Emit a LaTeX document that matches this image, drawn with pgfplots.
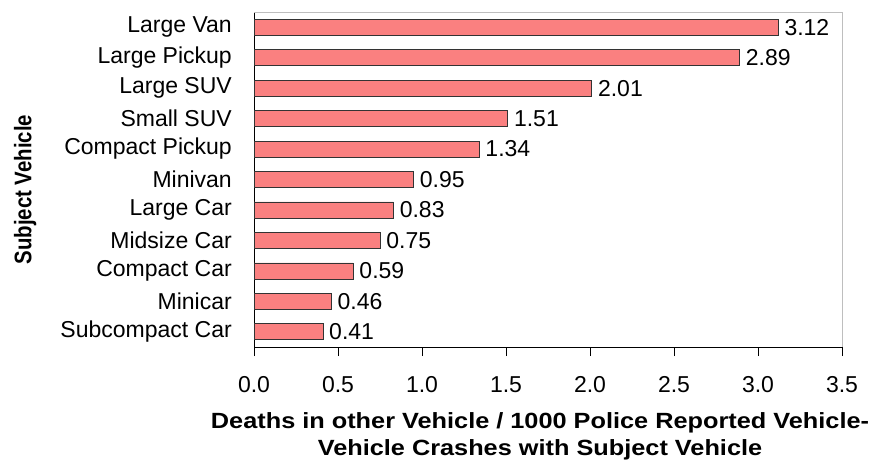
\documentclass[border=0pt]{standalone}
\usepackage{pgfplots}
\pgfplotsset{compat=1.18}
\usepackage{fontspec}
\setmainfont{Liberation Sans}
\definecolor{barfill}{RGB}{250,128,128}
\definecolor{framegray}{RGB}{190,190,190}
\newcommand\labelfont{\fontsize{23}{26}\selectfont}
\begin{document}
\begin{tikzpicture}[x=1pt,y=1pt]
\useasboundingbox (0,0) rectangle (875,463);
\begin{axis}[
  at={(254pt,116pt)}, anchor=south west,
  scale only axis, width=588pt, height=335pt,
  xmin=0, xmax=3.5, ymin=-0.5, ymax=10.5,
  axis x line*=bottom, axis y line*=left,
  axis line style={black, line width=0.8pt},
  xtick={0,0.5,...,3.5},
  xticklabel style={font=\labelfont, inner sep=0pt, anchor=north, yshift=-20pt},
  /pgf/number format/assume math mode=true,
  xticklabel={\pgfmathprintnumber[fixed,fixed zerofill,precision=1]{\tick}},
  ytick={0,...,10},
  yticklabels={Subcompact Car,Minicar,Compact Car,Midsize Car,Large Car,Minivan,Compact Pickup,Small SUV,Large SUV,Large Pickup,Large Van},
  yticklabel style={font=\labelfont, inner sep=0pt, anchor=east, xshift=-13pt},
  minor ytick={-0.5,0.5,...,10.5},
  tick align=outside,
  major tick length=9pt,
  ytick style={draw=none},
  minor tick style={black, line width=0.8pt},
  minor tick length=6pt,
  xtick style={black, line width=0.8pt},
  xlabel={\scalebox{1.15}[1]{\begin{tabular}{@{}c@{}}Deaths in other Vehicle / 1000 Police Reported Vehicle-\\Vehicle Crashes with Subject Vehicle\end{tabular}}},
  xlabel style={font=\bfseries\fontsize{22}{27}\selectfont, at={(axis description cs:0.5,0)}, anchor=north, inner sep=0pt, yshift=-62pt, xshift=-8pt},
  ylabel={\scalebox{0.85}[1]{Subject Vehicle}},
  ylabel style={font=\bfseries\fontsize{24}{26}\selectfont, at={(axis description cs:-0.389,0.47)}, anchor=center, inner sep=0pt},
  xbar, bar width=16pt,
  nodes near coords,
  nodes near coords style={font=\labelfont, anchor=west, inner sep=0pt, xshift=6pt,
    /pgf/number format/.cd, fixed, fixed zerofill, precision=2},
  clip=false,
]
\addplot[fill=barfill, draw=black!80, line width=0.7pt] coordinates {
  (0.41,0) (0.46,1) (0.59,2) (0.75,3) (0.83,4) (0.95,5)
  (1.34,6) (1.51,7) (2.01,8) (2.89,9) (3.12,10)
};
\draw[framegray, line width=0.8pt] (rel axis cs:0,1) -- (rel axis cs:1,1) -- (rel axis cs:1,0);
\end{axis}
\end{tikzpicture}
\end{document}
